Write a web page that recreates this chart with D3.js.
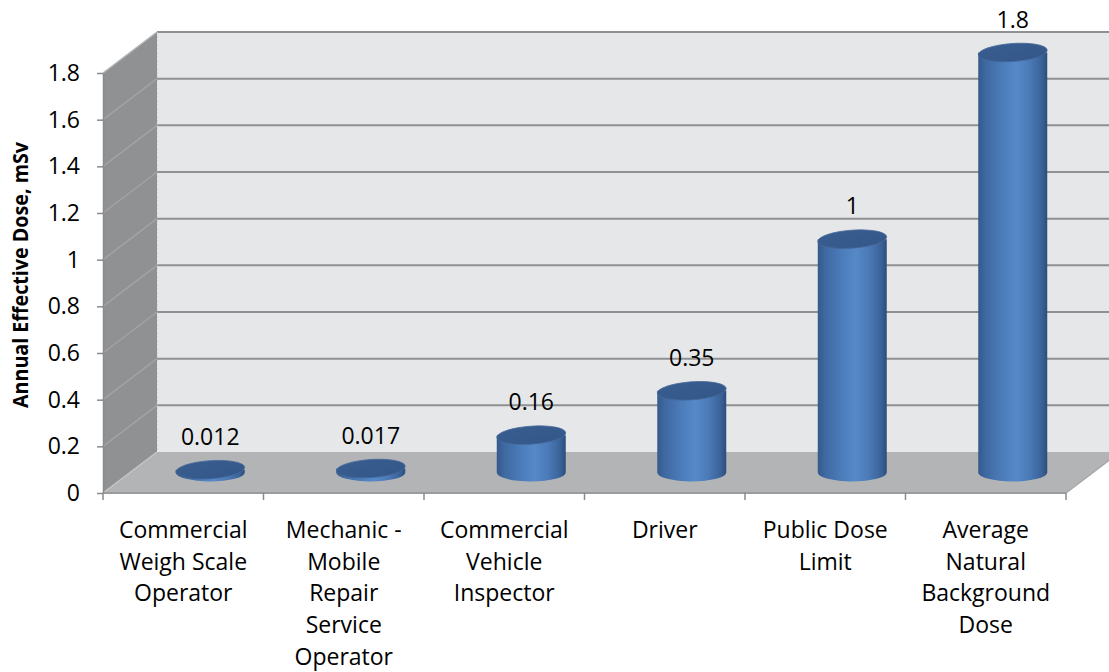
<!DOCTYPE html>
<html><head><meta charset="utf-8">
<script src="https://cdn.jsdelivr.net/npm/d3@7"></script>
<style>body{margin:0;background:#fff}svg{display:block}</style>
</head><body>
<svg id="c" width="1109" height="672"></svg>
<script>
const categories = ["Commercial\nWeigh Scale\nOperator", "Mechanic -\nMobile\nRepair\nService\nOperator", "Commercial\nVehicle\nInspector", "Driver", "Public Dose\nLimit", "Average\nNatural\nBackground\nDose"];
const values = [0.012, 0.017, 0.16, 0.35, 1, 1.8];
const valueLabels = ["0.012", "0.017", "0.16", "0.35", "1", "1.8"];
const yTickValues = [0, 0.2, 0.4, 0.6, 0.8, 1, 1.2, 1.4, 1.6, 1.8];
const yTickLabels = ["0", "0.2", "0.4", "0.6", "0.8", "1", "1.2", "1.4", "1.6", "1.8"];
const yTitle = "Annual Effective Dose, mSv";

const W = 1109, H = 672;
const FONT = "'Open Sans', sans-serif";
const svg = d3.select("#c");
const n = categories.length;

const x = d3.scaleBand().domain(d3.range(n)).range([103, 1066]).padding(0);
const y = d3.scaleLinear().domain([0, 1.8]).range([493, 73]);
const ddx = 54, ddy = -41;   // depth offset
const bw = x.bandwidth();
const xL = x.range()[0], xR = x.range()[1];
const y0 = y(0), yMax = y(1.8);

// defs
const defs = svg.append("defs");
const g1 = defs.append("linearGradient").attr("id", "cyl").attr("x1", "0").attr("x2", "1").attr("y1", "0").attr("y2", "0");
[[0, "#355a8c"], [0.12, "#3f6aa3"], [0.35, "#4c7cba"], [0.55, "#5689c8"], [0.75, "#4a79b6"], [0.92, "#3a6298"], [1, "#2c4d7d"]]
  .forEach(([o, c]) => g1.append("stop").attr("offset", o).attr("stop-color", c));
const g2 = defs.append("linearGradient").attr("id", "capg").attr("x1", "0").attr("x2", "1").attr("y1", "0").attr("y2", "1");
[[0, "#3a5d8f"], [1, "#34578a"]].forEach(([o, c]) => g2.append("stop").attr("offset", o).attr("stop-color", c));

// back wall
svg.append("rect").attr("x", xL + ddx).attr("y", yMax + ddy)
  .attr("width", W - (xL + ddx) + 20).attr("height", y0 - yMax)
  .attr("fill", "#e6e7e9");
// back wall gridlines
svg.append("g").selectAll("line").data(yTickValues.filter(v => v > 0)).join("line")
  .attr("x1", xL + ddx).attr("x2", W + 20)
  .attr("y1", d => y(d) + ddy).attr("y2", d => y(d) + ddy)
  .attr("stroke", "#8f9092").attr("stroke-width", 2);
// corner line back wall / side wall
svg.append("line").attr("x1", xL + ddx).attr("x2", xL + ddx).attr("y1", yMax + ddy).attr("y2", y0 + ddy)
  .attr("stroke", "#c8c9cb").attr("stroke-width", 1).attr("stroke-dasharray", "2,2");

// side wall
svg.append("polygon")
  .attr("points", [[xL, y0], [xL, yMax], [xL + ddx, yMax + ddy], [xL + ddx, y0 + ddy]].map(p => p.join(",")).join(" "))
  .attr("fill", "#909193");
svg.append("g").selectAll("line").data(yTickValues.filter(v => v > 0)).join("line")
  .attr("x1", xL).attr("x2", xL + ddx)
  .attr("y1", d => y(d)).attr("y2", d => y(d) + ddy)
  .attr("stroke", d => d === 1.8 ? "#b5b6b8" : "#a2a3a5").attr("stroke-width", 1.5);

// floor
svg.append("polygon")
  .attr("points", [[xL, y0], [xL + ddx, y0 + ddy], [xR + ddx, y0 + ddy], [xR, y0]].map(p => p.join(",")).join(" "))
  .attr("fill", "#b3b4b6");
svg.append("line").attr("x1", xL).attr("x2", xL + ddx).attr("y1", y0).attr("y2", y0 + ddy)
  .attr("stroke", "#c5c6c8").attr("stroke-width", 1.5);
svg.append("line").attr("x1", xR).attr("x2", xR + ddx).attr("y1", y0).attr("y2", y0 + ddy)
  .attr("stroke", "#a5a6a8").attr("stroke-width", 1.5);
svg.append("line").attr("x1", xL).attr("x2", xR).attr("y1", y0).attr("y2", y0)
  .attr("stroke", "#9a9b9d").attr("stroke-width", 2);

// category tick marks
const bounds = d3.range(n).map(i => x(i)).concat([x(n - 1) + bw]);
svg.append("g").selectAll("line").data(bounds).join("line")
  .attr("x1", d => d).attr("x2", d => d).attr("y1", y0).attr("y2", y0 + 7)
  .attr("stroke", "#8a8a8a").attr("stroke-width", 1.5);

// y axis
const yAxis = svg.append("g").attr("transform", `translate(${xL},0)`)
  .call(d3.axisLeft(y).tickValues(yTickValues).tickFormat((d, i) => yTickLabels[i]).tickSize(6).tickSizeOuter(0).tickPadding(17));
yAxis.select(".domain").attr("stroke", "#8a8a8a").attr("stroke-width", 1.5);
yAxis.selectAll(".tick line").attr("stroke", "#8a8a8a").attr("stroke-width", 1.5);
yAxis.selectAll(".tick text").attr("font-family", FONT).attr("font-size", 23).attr("fill", "#000");

// cylinders
const rx = 34.5, ry = 9, tilt = -4;
const cyl = svg.append("g").selectAll("g").data(values).join("g");
cyl.each(function (v, i) {
  const g = d3.select(this);
  const cx = x(i) + bw / 2 + ddx / 2;
  const yb = y(0) + ddy / 2;
  const yt = y(v) + ddy / 2;
  g.append("path")
    .attr("d", `M${cx - rx},${yt} L${cx - rx},${yb} A${rx},${ry} 0 0 0 ${cx + rx},${yb} L${cx + rx},${yt} Z`)
    .attr("fill", "url(#cyl)");
  g.append("ellipse").attr("cx", cx).attr("cy", yt).attr("rx", rx).attr("ry", ry)
    .attr("transform", `rotate(${tilt},${cx},${yt})`)
    .attr("fill", "url(#capg)").attr("stroke", "#46699b").attr("stroke-width", 0.8);
});

// value labels
svg.append("g").selectAll("text").data(values).join("text")
  .attr("x", (d, i) => x(i) + bw / 2 + ddx / 2)
  .attr("y", d => y(d) + ddy / 2 - 33)
  .attr("dy", "0.36em")
  .attr("text-anchor", "middle")
  .attr("font-family", FONT).attr("font-size", 23).attr("fill", "#000")
  .text((d, i) => valueLabels[i]);

// category labels
const cl = svg.append("g").selectAll("text").data(categories).join("text")
  .attr("text-anchor", "middle")
  .attr("font-family", FONT).attr("font-size", 23).attr("fill", "#000");
cl.each(function (c, i) {
  const t = d3.select(this);
  c.split("\n").forEach((line, k) => {
    t.append("tspan").attr("x", x(i) + bw / 2).attr("y", 530 + k * 31.8).attr("dy", "0.34em").text(line);
  });
});

// y title
svg.append("text")
  .attr("transform", `translate(28,275) rotate(-90)`)
  .attr("text-anchor", "middle")
  .attr("font-family", FONT).attr("font-size", 20.5).attr("font-weight", "bold").attr("fill", "#000")
  .attr("textLength", 266).attr("lengthAdjust", "spacingAndGlyphs")
  .text(yTitle);
</script>
</body></html>
